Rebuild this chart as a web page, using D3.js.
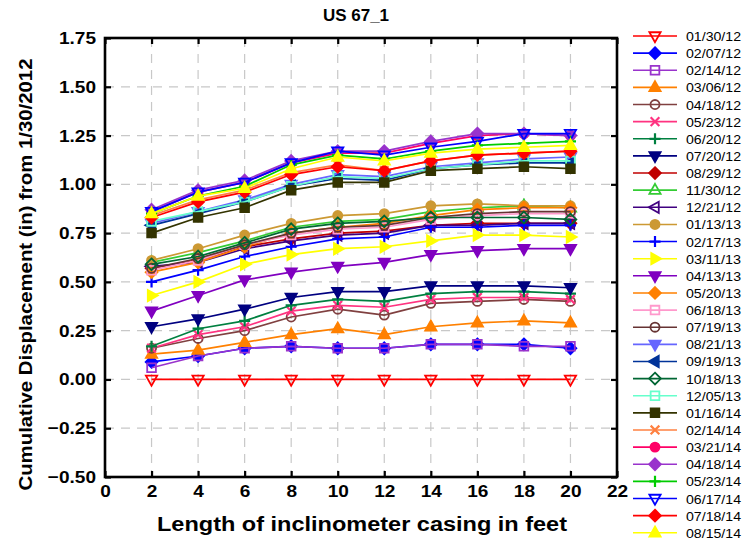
<!DOCTYPE html>
<html><head><meta charset="utf-8">
<script src="https://cdn.jsdelivr.net/npm/d3@7"></script>
<style>body{margin:0;background:#fff}svg{display:block}text{font-family:"Liberation Sans",Arial,sans-serif}</style>
</head><body>
<svg id="c" width="744" height="546"></svg>
<script>
const xs = [2,4,6,8,10,12,14,16,18,20];
const labels = ["01/30/12","02/07/12","02/14/12","03/06/12","04/18/12","05/23/12","06/20/12","07/20/12","08/29/12","11/30/12","12/21/12","01/13/13","02/17/13","03/11/13","04/13/13","05/20/13","06/18/13","07/19/13","08/21/13","09/19/13","10/18/13","12/05/13","01/16/14","02/14/14","03/21/14","04/18/14","05/23/14","06/17/14","07/18/14","08/15/14"];
const s01 = [0,0,0,0,0,0,0,0,0,0];
const s02 = [0.09,0.12,0.16,0.17,0.16,0.16,0.18,0.18,0.18,0.16];
const s03 = [0.06,0.12,0.16,0.17,0.16,0.16,0.18,0.18,0.17,0.17];
const s04 = [0.13,0.15,0.19,0.23,0.26,0.23,0.27,0.29,0.30,0.29];
const s05 = [0.16,0.21,0.25,0.32,0.36,0.33,0.39,0.40,0.41,0.40];
const s06 = [0.16,0.23,0.27,0.35,0.38,0.37,0.41,0.42,0.42,0.41];
const s07 = [0.17,0.26,0.30,0.38,0.41,0.40,0.44,0.45,0.45,0.44];
const s08 = [0.27,0.31,0.36,0.42,0.45,0.45,0.48,0.48,0.48,0.47];
const s09 = [0.57,0.61,0.68,0.72,0.75,0.76,0.79,0.80,0.80,0.80];
const s10 = [0.60,0.65,0.71,0.78,0.81,0.82,0.86,0.88,0.89,0.88];
const s11 = [0.58,0.60,0.67,0.71,0.74,0.75,0.79,0.79,0.80,0.80];
const s12 = [0.61,0.67,0.74,0.80,0.84,0.85,0.89,0.90,0.89,0.89];
const s13 = [0.50,0.56,0.63,0.68,0.72,0.73,0.78,0.78,0.79,0.79];
const s14 = [0.43,0.50,0.59,0.64,0.67,0.68,0.71,0.74,0.74,0.73];
const s15 = [0.35,0.43,0.51,0.55,0.58,0.60,0.64,0.66,0.67,0.67];
const s16 = [0.55,0.60,0.68,0.75,0.78,0.80,0.84,0.87,0.88,0.88];
const s17 = [0.56,0.61,0.69,0.74,0.77,0.78,0.82,0.84,0.85,0.85];
const s18 = [0.57,0.62,0.69,0.75,0.78,0.79,0.83,0.85,0.86,0.86];
const s19 = [0.80,0.86,0.92,1.00,1.05,1.04,1.09,1.11,1.13,1.14];
const s20 = [0.79,0.85,0.91,0.99,1.03,1.02,1.08,1.10,1.11,1.11];
const s21 = [0.59,0.63,0.70,0.77,0.80,0.81,0.83,0.83,0.83,0.82];
const s22 = [0.81,0.86,0.91,0.99,1.04,1.03,1.08,1.10,1.12,1.12];
const s23 = [0.75,0.83,0.88,0.97,1.01,1.01,1.07,1.08,1.09,1.08];
const s24 = [0.84,0.92,0.97,1.06,1.10,1.07,1.12,1.15,1.16,1.17];
const s25 = [0.86,0.96,1.01,1.11,1.16,1.16,1.21,1.25,1.26,1.25];
const s26 = [0.87,0.97,1.02,1.12,1.17,1.17,1.22,1.26,1.26,1.25];
const s27 = [0.85,0.94,0.99,1.10,1.15,1.13,1.17,1.20,1.21,1.22];
const s28 = [0.86,0.96,1.01,1.11,1.17,1.15,1.19,1.22,1.26,1.26];
const s29 = [0.83,0.91,0.96,1.05,1.09,1.07,1.12,1.15,1.16,1.17];
const s30 = [0.85,0.94,0.98,1.08,1.14,1.12,1.16,1.18,1.19,1.20];
const seriesValues = [s01,s02,s03,s04,s05,s06,s07,s08,s09,s10,s11,s12,s13,s14,s15,s16,s17,s18,s19,s20,s21,s22,s23,s24,s25,s26,s27,s28,s29,s30];
const colors = ["#ff0000","#0000ff","#9933cc","#ff8000","#804040","#ff3380","#008040","#000080","#c00000","#33cc33","#400080","#cc9933","#0000ff","#ffff00","#8000c0","#ff8000","#ff99cc","#663333","#6666ff","#003399","#006633","#66ffcc","#333300","#ff8040","#ff0066","#9933cc","#00cc00","#0000ff","#ff0000","#ffff00"];
const shapes = ["tdown","diamond","square","tup","circle","x","plus","tdown","diamond","tup","tleft","circle","plus","tright","tdown","diamond","square","circle","tdown","tleft","diamond","square","square","x","circle","diamond","plus","tdown","diamond","tup"];
const filled = [false,true,false,true,false,false,false,true,true,false,false,true,false,true,true,true,false,false,true,true,false,false,true,false,true,true,false,false,true,true];
const yTicks = [-0.5,-0.25,0,0.25,0.5,0.75,1,1.25,1.5,1.75];
const xTicks = [0,2,4,6,8,10,12,14,16,18,20,22];

const svg = d3.select("#c");
const L=105, R=617, T=38, B=477;
const x = d3.scaleLinear().domain([0,22]).range([L,R]);
const y = d3.scaleLinear().domain([-0.5,1.75]).range([B,T]);

// grid
const g = svg.append("g");
g.selectAll(".vg").data(xTicks.slice(1,-1)).join("line")
 .attr("x1",d=>x(d)).attr("x2",d=>x(d)).attr("y1",T).attr("y2",B)
 .attr("stroke","#c8c8c8").attr("stroke-width",1.2).attr("stroke-dasharray","9,7");
g.selectAll(".hg").data(yTicks.slice(1,-1)).join("line")
 .attr("x1",L).attr("x2",R).attr("y1",d=>y(d)).attr("y2",d=>y(d))
 .attr("stroke","#c8c8c8").attr("stroke-width",1.2).attr("stroke-dasharray","9,7");

// symbol types
function tri(rot){return {draw(ctx,size){const r=Math.sqrt(size)/1.6;const pts=[[0,-r],[r*0.9,r*0.6],[-r*0.9,r*0.6]];
  const a=rot*Math.PI/180;const p=pts.map(([px,py])=>[px*Math.cos(a)-py*Math.sin(a),px*Math.sin(a)+py*Math.cos(a)]);
  ctx.moveTo(p[0][0],p[0][1]);ctx.lineTo(p[1][0],p[1][1]);ctx.lineTo(p[2][0],p[2][1]);ctx.closePath();}};}
const symTypes = {
  tup: tri(0), tdown: tri(180), tleft: tri(-90), tright: tri(90),
  diamond: {draw(ctx,size){const r=Math.sqrt(size)/1.7;ctx.moveTo(0,-r);ctx.lineTo(r,0);ctx.lineTo(0,r);ctx.lineTo(-r,0);ctx.closePath();}},
  square: {draw(ctx,size){const r=Math.sqrt(size)/2.3;ctx.rect(-r,-r,2*r,2*r);}},
  circle: {draw(ctx,size){const r=Math.sqrt(size)/2.2;ctx.moveTo(r,0);ctx.arc(0,0,r,0,2*Math.PI);}},
  plus: {draw(ctx,size){const r=Math.sqrt(size)/1.8;ctx.moveTo(-r,0);ctx.lineTo(r,0);ctx.moveTo(0,-r);ctx.lineTo(0,r);}},
  x: {draw(ctx,size){const r=Math.sqrt(size)/2.3;ctx.moveTo(-r,-r);ctx.lineTo(r,r);ctx.moveTo(-r,r);ctx.lineTo(r,-r);}}
};
function drawMarker(sel, i, size){
  const open = !filled[i];
  const lineOnly = shapes[i]==="plus"||shapes[i]==="x";
  sel.attr("d", d3.symbol().type(symTypes[shapes[i]]).size(size))
    .attr("fill", lineOnly ? "none" : (open ? "#ffffff" : colors[i]))
    .attr("fill-opacity", open && !lineOnly ? 0 : 1)
    .attr("stroke", colors[i]).attr("stroke-width", lineOnly?2.2:1.8);
}

const line = d3.line().x((d,j)=>x(xs[j])).y(d=>y(d));
seriesValues.forEach((vals,i)=>{
  const sg = svg.append("g");
  sg.append("path").attr("d",line(vals)).attr("fill","none").attr("stroke",colors[i]).attr("stroke-width",1.7);
  sg.selectAll("path.m").data(vals).join("path").attr("class","m")
    .attr("transform",(d,j)=>`translate(${x(xs[j])},${y(d)})`)
    .each(function(){drawMarker(d3.select(this),i,100);});
});

// frame
svg.append("rect").attr("x",L).attr("y",T).attr("width",R-L).attr("height",B-T)
  .attr("fill","none").attr("stroke","#000").attr("stroke-width",2.6);

// axes with inward ticks
const fmt = d3.format(".2f");
const axL = svg.append("g").attr("transform",`translate(${L},0)`).call(d3.axisLeft(y).tickValues(yTicks).tickFormat(fmt).tickSizeInner(-6).tickSizeOuter(0).tickPadding(9));
const axR = svg.append("g").attr("transform",`translate(${R},0)`).call(d3.axisRight(y).tickValues(yTicks).tickFormat("").tickSizeInner(-6).tickSizeOuter(0));
const axB = svg.append("g").attr("transform",`translate(0,${B})`).call(d3.axisBottom(x).tickValues(xTicks).tickFormat(d3.format("d")).tickSizeInner(-6).tickSizeOuter(0).tickPadding(8));
const axT = svg.append("g").attr("transform",`translate(0,${T})`).call(d3.axisTop(x).tickValues(xTicks).tickFormat("").tickSizeInner(-6).tickSizeOuter(0));
[axL,axR,axB,axT].forEach(a=>{a.select(".domain").remove();a.selectAll(".tick line").attr("stroke","#000").attr("stroke-width",2.2);});
[axL,axB].forEach(a=>{
  a.selectAll("text").attr("font-size",17).attr("font-weight","bold").attr("fill","#000")
   .each(function(){const w=this.getComputedTextLength();d3.select(this).attr("textLength",w*1.12).attr("lengthAdjust","spacingAndGlyphs");});
});

// titles
svg.append("text").attr("x",356).attr("y",21).attr("text-anchor","middle").attr("font-size",17).attr("font-weight","bold").text("US 67_1");
svg.append("text").attr("transform",`translate(32,${(T+B)/2+17}) rotate(-90)`).attr("text-anchor","middle")
  .attr("font-size",19).attr("font-weight","bold").attr("textLength",432).attr("lengthAdjust","spacingAndGlyphs")
  .text("Cumulative Displacement (in) from 1/30/2012");
svg.append("text").attr("x",362).attr("y",531).attr("text-anchor","middle").attr("font-size",20).attr("font-weight","bold")
  .attr("textLength",410).attr("lengthAdjust","spacingAndGlyphs")
  .text("Length of inclinometer casing in feet");

// legend
const lg = svg.append("g");
labels.forEach((lab,i)=>{
  const ly = 36 + 17.13*i;
  lg.append("line").attr("x1",633).attr("x2",677).attr("y1",ly).attr("y2",ly).attr("stroke",colors[i]).attr("stroke-width",1.6);
  lg.append("path").attr("transform",`translate(655,${ly})`).call(s=>drawMarker(s,i,100));
  lg.append("text").attr("x",686).attr("y",ly+5).attr("font-size",13.5).attr("fill","#000")
    .attr("textLength",55).attr("lengthAdjust","spacingAndGlyphs").text(lab);
});
</script>
</body></html>
